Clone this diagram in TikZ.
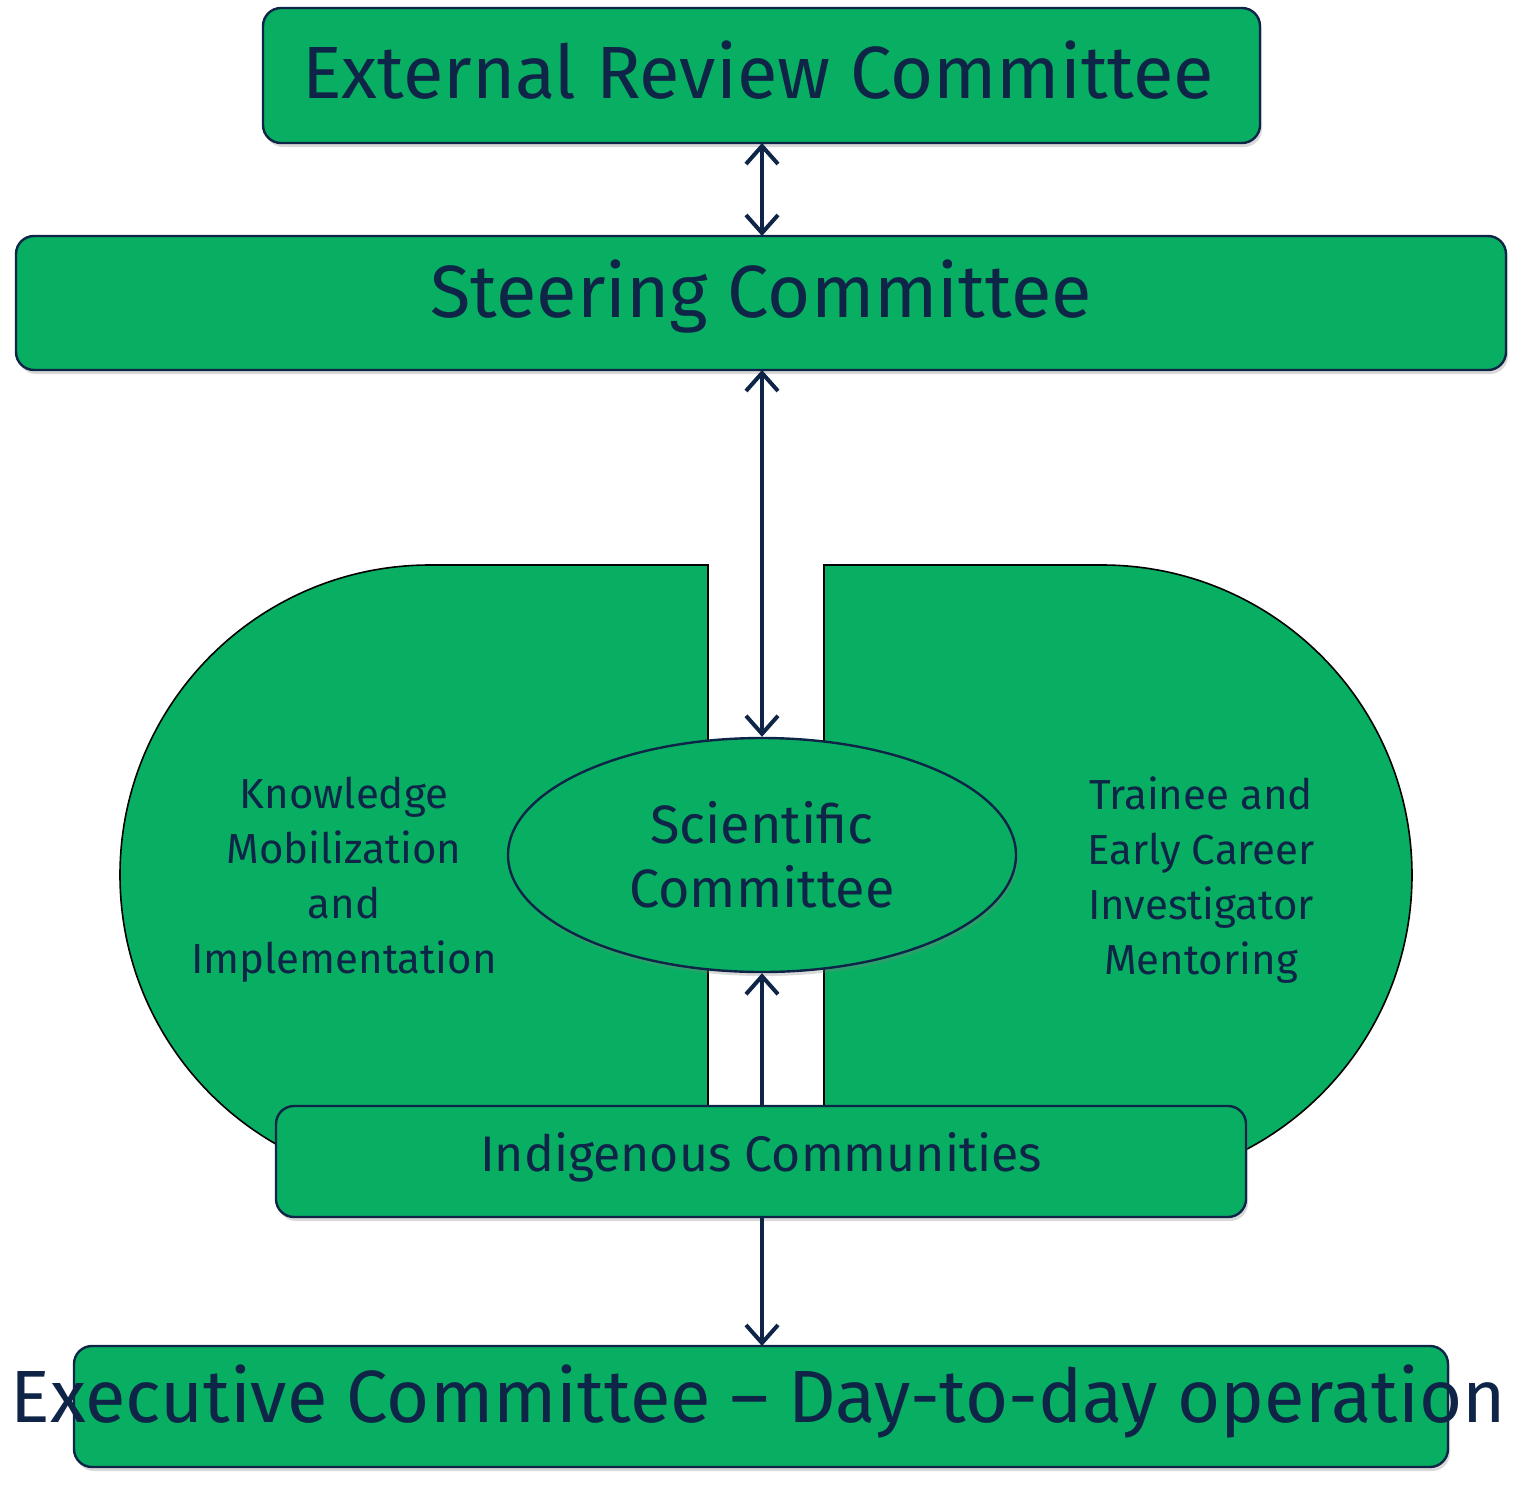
\documentclass[tikz,border=0pt]{standalone}
\usepackage{fontspec}
\setmainfont{Fira Sans}
\usetikzlibrary{arrows.meta,shadows,shapes.geometric}
\definecolor{grn}{HTML}{08AF62}
\definecolor{nvy}{HTML}{0F2548}
\begin{document}
\begin{tikzpicture}[x=0.5pt,y=-0.5pt,
  box/.style={draw=nvy,line width=1.2pt,fill=grn,rounded corners=9pt,text=nvy,drop shadow={opacity=0.3,shadow xshift=1pt,shadow yshift=-2pt}},
  arr/.style={draw=nvy,line width=2pt,-{Straight Barb[length=9pt,width=16pt,line width=2pt]}},
  darr/.style={draw=nvy,line width=2pt,{Straight Barb[length=9pt,width=16pt,line width=2pt]}-{Straight Barb[length=9pt,width=16pt,line width=2pt]}},
  lbl/.style={text=nvy,align=center,font=\fontsize{21}{27.5}\selectfont}]
\useasboundingbox (0,0) rectangle (1523,1506);
% side shapes
\draw[fill=grn,draw=black,line width=0.8pt] (708,565) -- (430,565) arc[start angle=90,end angle=270,radius=155pt] -- (708,1185) -- cycle;
\draw[fill=grn,draw=black,line width=0.8pt] (824,565) -- (1102,565) arc[start angle=90,end angle=-90,radius=155pt] -- (824,1185) -- cycle;
\node[lbl] (km) at (344,880) {Knowledge\\Mobilization\\and\\Implementation};
\node[lbl] (tr) at (1201,880) {Trainee and\\Early Career\\Investigator\\Mentoring};
% boxes
\path[box] (263,8) rectangle (1260,143);
\node[text=nvy,font=\fontsize{37}{40}\selectfont] (erc) at (758,70) {External Review Committee};
\coordinate (ercb) at (762,143);
\path[box] (16,236) rectangle (1506,370);
\node[text=nvy,font=\fontsize{37}{40}\selectfont] (sc) at (761,297) {Steering Committee};
\coordinate (sct) at (762,236);
\coordinate (scb) at (762,370);
\node[ellipse,draw=nvy,line width=1.2pt,fill=grn,minimum width=254pt,minimum height=117pt,text=nvy,align=center,font=\fontsize{27}{32}\selectfont,drop shadow={opacity=0.3,shadow xshift=1pt,shadow yshift=-2pt},inner sep=0pt] (sci) at (762,855) {Scientific\\Committee};
\path[box] (276,1106) rectangle (1246,1217);
\node[text=nvy,font=\fontsize{25}{30}\selectfont] (ic) at (761,1157) {Indigenous Communities};
\coordinate (ict) at (762,1106);
\coordinate (icb) at (762,1217);
\path[box] (74,1346) rectangle (1448,1467);
\node[text=nvy,font=\fontsize{37}{40}\selectfont] (ex) at (758,1402) {Executive Committee – Day-to-day operation};
\coordinate (ext) at (762,1346);
% arrows
\draw[darr] (ercb) -- (sct);
\draw[darr] (scb) -- (sci.north);
\draw[arr] (ict) -- (sci.south);
\draw[arr] (icb) -- (ext);
\end{tikzpicture}
\end{document}
